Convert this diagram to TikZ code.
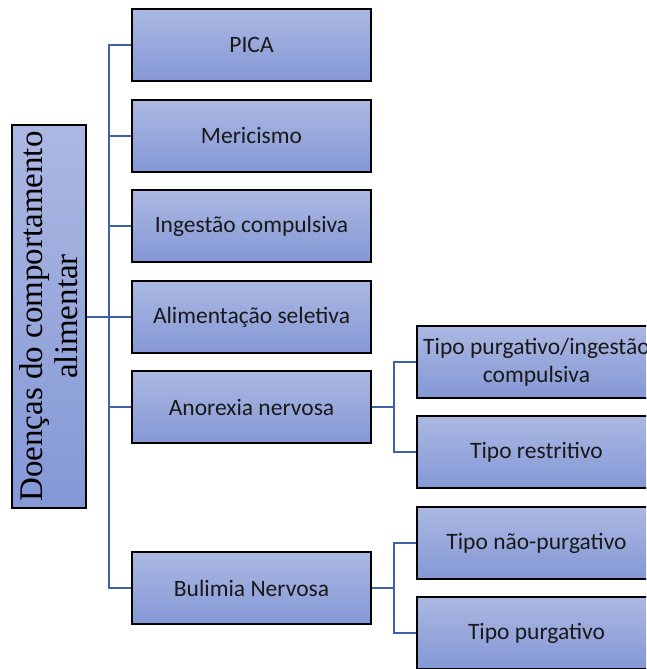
\documentclass[tikz,border=0pt]{standalone}
\usepackage{fontspec}
\usetikzlibrary{calc}
\newfontfamily\boxfont{Carlito}
\newfontfamily\rootfont{Liberation Serif}
\definecolor{boxtop}{RGB}{172,184,226}
\definecolor{boxbot}{RGB}{132,152,214}
\definecolor{linkblue}{RGB}{62,98,170}
\tikzset{
    topicbox/.style={draw=black, line width=1.5pt, top color=boxtop, bottom color=boxbot,
        minimum width=239pt, minimum height=72pt, inner sep=0pt, align=center,
        font=\boxfont\fontsize{23.5}{28}\selectfont, text=black!90},
    rootbox/.style={draw=black, line width=1.5pt, top color=boxtop, bottom color=boxbot,
        minimum width=74pt, minimum height=383pt, inner sep=0pt},
    link/.style={draw=linkblue, line width=2.4pt}
}
\begin{document}
\begin{tikzpicture}[x=1pt, y=-1pt]
        \useasboundingbox (0,0) rectangle (646,669);
        \clip (0,0) rectangle (646,669);
        \node[rootbox] (root) at (49,316.5) {};
        \node[rotate=90, align=center, font=\rootfont\fontsize{33}{35}\selectfont] (roottext)
            at (root.center) {Doenças do comportamento\\alimentar};
        \node[topicbox] (pica) at (251.5,45) {PICA};
        \node[topicbox] (meric) at (251.5,136) {Mericismo};
        \node[topicbox] (ingest) at (251.5,226) {Ingestão compulsiva};
        \node[topicbox] (alim) at (251.5,317) {Alimentação seletiva};
        \node[topicbox] (anor) at (251.5,407) {Anorexia nervosa};
        \node[topicbox] (bulim) at (251.5,588) {Bulimia Nervosa};
        \node[topicbox] (purgcomp) at (536.5,362) {Tipo purgativo/ingestão\\compulsiva};
        \node[topicbox] (restr) at (536.5,452) {Tipo restritivo};
        \node[topicbox] (naopurg) at (536.5,543) {Tipo não-purgativo};
        \node[topicbox] (purg) at (536.5,633) {Tipo purgativo};
        \coordinate (trunk) at (109,0);
        \coordinate (anorfork) at ($(anor.east)!0.5!(restr.west)$);
        \coordinate (bulimfork) at ($(bulim.east)!0.5!(purg.west)$);
        \foreach \n in {pica,meric,ingest,alim,anor,bulim}
            \draw[link] (root.east |- alim.west) -| (trunk |- \n.west) -- (\n.west);
        \foreach \a/\b in {anor/purgcomp,anor/restr,bulim/naopurg,bulim/purg}
            \draw[link] (\a.east) -| (\a fork |- \b.west) -- (\b.west);
    \end{tikzpicture}
\end{document}
